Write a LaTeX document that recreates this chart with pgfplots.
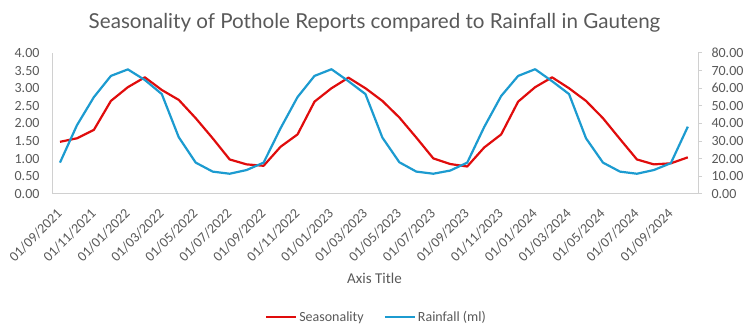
\documentclass[border=0pt]{standalone}
\usepackage{fontspec}
\setmainfont{Carlito}
\newfontfamily\titlefont{Lato}
\usepackage{pgfplots}
\pgfplotsset{compat=1.18}
\definecolor{txt}{HTML}{595959}
\definecolor{axgray}{HTML}{D0D0D0}
\definecolor{sred}{HTML}{E00C0C}
\definecolor{rblue}{HTML}{1C9BD0}
\pgfplotstableread{
i s r
0 1.48 17.8
1 1.58 39.0
2 1.82 55.0
3 2.64 67.0
4 3.03 70.7
5 3.31 64.7
6 2.95 56.7
7 2.67 32.2
8 2.15 17.8
9 1.58 12.7
10 0.98 11.5
11 0.84 13.6
12 0.80 17.8
13 1.34 37.3
14 1.69 55.0
15 2.62 67.0
16 3.00 70.8
17 3.30 64.0
18 3.00 56.7
19 2.64 32.0
20 2.17 18.0
21 1.60 12.7
22 1.01 11.5
23 0.85 13.3
24 0.78 17.8
25 1.32 38.0
26 1.69 55.6
27 2.62 67.0
28 3.03 70.8
29 3.31 64.0
30 3.00 56.7
31 2.64 31.6
32 2.15 17.8
33 1.56 12.7
34 0.98 11.5
35 0.84 13.6
36 0.87 17.5
37 1.04 38.2
}\datatable
\begin{document}
\begin{tikzpicture}[x=1pt,y=1pt]
\path[use as bounding box] (0,0) rectangle (746,336);
\node[font=\titlefont\fontsize{20.6}{20.6}\selectfont, text=txt] at (374.5,313) {Seasonality of Pothole Reports compared to Rainfall in Gauteng};
\node[font=\fontsize{15}{15}\selectfont, text=txt] at (374.5,58) {Axis Title};
\begin{axis}[at={(52pt,142pt)}, anchor=south west, scale only axis,
  width=646pt, height=141pt,
  xmin=-0.47, xmax=37.6, ymin=0, ymax=4,
  axis x line=bottom, axis y line=left,
  axis line style={-, draw=axgray, line width=1pt},
  ytick={0,0.5,...,4},
  yticklabel style={xshift=-9pt, font=\fontsize{14}{14}\selectfont, text=txt, /pgf/number format/.cd, fixed, fixed zerofill, precision=2, assume math mode=true},
  xtick={0,2,...,36},
  xticklabels={01/09/2021,01/11/2021,01/01/2022,01/03/2022,01/05/2022,01/07/2022,01/09/2022,01/11/2022,01/01/2023,01/03/2023,01/05/2023,01/07/2023,01/09/2023,01/11/2023,01/01/2024,01/03/2024,01/05/2024,01/07/2024,01/09/2024},
  xticklabel style={xshift=2pt, yshift=-15pt, rotate=45, anchor=east, font=\fontsize{14}{14}\selectfont, text=txt},
  major tick length=0pt, tick style={draw=none},
  legend style={at={(axis description cs:0.5023,-0.872)}, anchor=center, draw=none, fill=none,
    legend columns=2, font=\fontsize{14}{14}\selectfont, text=txt,
    /tikz/every even column/.append style={column sep=18pt}},
  legend cell align=left,
  legend image code/.code={\draw[#1] (0pt,0pt) -- (30pt,0pt);},
]
\addplot[sred, line width=2.2pt, line join=round] table[x=i, y=s] {\datatable};
\addlegendentry{Seasonality}
\addlegendimage{rblue, line width=2.2pt}
\addlegendentry{Rainfall (ml)}
\end{axis}
\begin{axis}[at={(52pt,142pt)}, anchor=south west, scale only axis,
  width=646pt, height=141pt,
  xmin=-0.47, xmax=37.6, ymin=0, ymax=80,
  axis x line=none, axis y line=right,
  axis line style={-, draw=axgray, line width=1pt},
  ytick={0,10,...,80},
  yticklabel style={xshift=6pt, font=\fontsize{14}{14}\selectfont, text=txt, /pgf/number format/.cd, fixed, fixed zerofill, precision=2, assume math mode=true},
  tick align=outside, major tick length=4pt, ytick style={draw=axgray, line width=1pt},
]
\addplot[rblue, line width=2.2pt, line join=round] table[x=i, y=r] {\datatable};
\end{axis}
\end{tikzpicture}
\end{document}
